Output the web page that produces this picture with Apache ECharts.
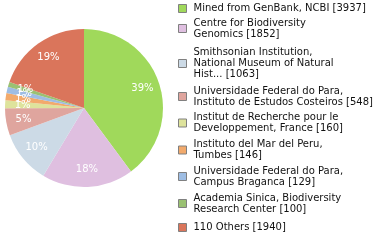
<!DOCTYPE html>
<html><head><meta charset="utf-8">
<script src="https://cdn.jsdelivr.net/npm/echarts@6/dist/echarts.min.js"></script>
<style>html,body{margin:0;padding:0;background:#fff}#c{width:380px;height:240px}</style>
</head><body><div id="c"></div>
<script>
const names = [
  "Mined from GenBank, NCBI",
  "Centre for Biodiversity\nGenomics",
  "Smithsonian Institution,\nNational Museum of Natural\nHist...",
  "Universidade Federal do Para,\nInstituto de Estudos Costeiros",
  "Institut de Recherche pour le\nDeveloppement, France",
  "Instituto del Mar del Peru,\nTumbes",
  "Universidade Federal do Para,\nCampus Braganca",
  "Academia Sinica, Biodiversity\nResearch Center",
  "110 Others"
];
const counts = [3937, 1852, 1063, 548, 160, 146, 129, 100, 1940];
const colors = ["#a0d95b","#dfbfe0","#ccdae6","#dfa59e","#dee39c","#f2aa6c","#9ebde3","#9ac172","#da755b"];

const total = counts.reduce((a,b)=>a+b,0);
const data = names.map((n,i)=>({name:n, value:counts[i]}));
const legendTops = [3, 17.5, 47, 85.5, 112, 139, 165.5, 192.5, 222];

const chart = echarts.init(document.getElementById('c'), null, {renderer:'canvas'});
chart.setOption({
  animation:false,
  color: colors,
  legend: names.map((n,i)=>({
    data:[n], orient:'vertical', left:178, top:legendTops[i], padding:0,
    icon:'rect', itemWidth:8, itemHeight:8,
    itemStyle:{borderColor:'#808080', borderWidth:1},
    selectedMode:false,
    formatter: name => name + ' [' + counts[names.indexOf(name)] + ']',
    textStyle:{fontFamily:'DejaVu Sans', fontSize:10, color:'#111', lineHeight:11, padding:[0,0,0,2]}
  })),
  series:[
    {type:'pie', center:[84,108], radius:[0,79], startAngle:90, clockwise:true,
     data:data, label:{show:false}, labelLine:{show:false},
     itemStyle:{borderWidth:0}, emphasis:{disabled:true}},
    {type:'pie', center:[84,108], radius:[38,79], startAngle:90, clockwise:true, silent:true,
     avoidLabelOverlap:false, minShowLabelAngle:0,
     labelLayout:{hideOverlap:false},
     data:data, itemStyle:{color:'rgba(0,0,0,0)', borderWidth:0}, emphasis:{disabled:true},
     labelLine:{show:false},
     label:{show:true, position:'inside', color:'#fff', fontFamily:'DejaVu Sans', fontSize:10,
       formatter: p => Math.floor(p.value/total*100) + '%'}}
  ]
});
</script></body></html>
